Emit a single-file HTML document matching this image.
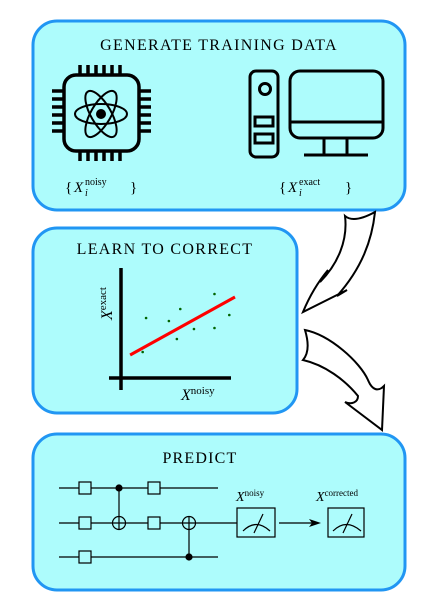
<!DOCTYPE html>
<html><head><meta charset="utf-8"><style>
html,body{margin:0;padding:0;background:#fff;}
svg{display:block;font-family:"Liberation Serif",serif;}
</style></head><body>
<svg id="fig" width="446" height="608" viewBox="0 0 446 608">
<!-- Box 1 -->
<g>
<rect x="33" y="21" width="372" height="189" rx="24" fill="#adfcfc" stroke="#2196f3" stroke-width="3"/>
<text x="219" y="50" text-anchor="middle" font-size="16" letter-spacing="1.3">GENERATE TRAINING DATA</text>
<g stroke="#000" fill="none" stroke-width="3.5">
<rect x="64" y="75" width="75" height="76" rx="12"/>
<g stroke-width="3.5">
<path d="M80 65V75M88 65V75M96 65V75M104 65V75M112 65V75M120 65V75"/>
<path d="M80 151V161M88 151V161M96 151V161M104 151V161M112 151V161M120 151V161"/>
<path d="M52 91H64M52 99H64M52 107H64M52 115H64M52 123H64M52 131H64"/>
<path d="M139 91H151M139 99H151M139 107H151M139 115H151M139 123H151M139 131H151"/>
</g>
<g stroke-width="2">
<ellipse cx="101" cy="114" rx="26" ry="10"/>
<ellipse cx="101" cy="114" rx="26" ry="10" transform="rotate(60 101 114)"/>
<ellipse cx="101" cy="114" rx="26" ry="10" transform="rotate(-60 101 114)"/>
</g>
<circle cx="101" cy="114" r="5" fill="#000" stroke="none"/>
</g>
<g stroke="#000" fill="none" stroke-width="3">
<rect x="250" y="71" width="28" height="86" rx="6"/>
<circle cx="265" cy="89" r="5.5"/>
<rect x="255" y="117" width="18" height="9"/>
<rect x="255" y="134" width="18" height="9"/>
<rect x="290" y="71" width="93" height="67" rx="10"/>
<path d="M290 122H383M324 138V154M347 138V154M304 155H368"/>
</g>
<g font-size="15">
<text x="65" y="192">{</text>
<text x="74" y="192" font-style="italic">X</text>
<text x="85" y="185" font-size="10">noisy</text>
<text x="85" y="196" font-size="10" font-style="italic">i</text>
<text x="130" y="192">}</text>
</g>
<g font-size="15">
<text x="279" y="192">{</text>
<text x="288" y="192" font-style="italic">X</text>
<text x="299" y="185" font-size="10">exact</text>
<text x="299" y="196" font-size="10" font-style="italic">i</text>
<text x="345" y="192">}</text>
</g>
</g>
<!-- Box 2 -->
<g>
<rect x="33" y="228" width="264" height="185" rx="24" fill="#adfcfc" stroke="#2196f3" stroke-width="3"/>
<text x="165" y="254" text-anchor="middle" font-size="16" letter-spacing="1.3">LEARN TO CORRECT</text>
<path d="M121 268V390M109 378H231" stroke="#000" stroke-width="3.5" fill="none"/>
<g id="dots"></g>
<line id="fitline" stroke="#f00" stroke-width="3"/>
<text x="112" y="320" font-size="14" transform="rotate(-90 112 320)"><tspan font-style="italic" font-size="16">X</tspan><tspan font-size="11" dy="-6">exact</tspan></text>
<text x="181" y="400" font-size="15"><tspan font-style="italic" font-size="16">X</tspan><tspan font-size="11" dy="-6">noisy</tspan></text>
</g>
<!-- Arrows -->
<path d="M345 216 C352 222 364 218 375 212 C372 240 362 268 337 296 L347 290 L303 312 C310 295 318 282 328 270 L320 282 C338 264 348 240 345 216 Z" fill="#fff" stroke="#000" stroke-width="2"/>
<path d="M305 330 C330 335 360 362 368 380 C372 390 378 392 384 386 L382 430 L345 402 C352 405 358 402 358 396 C345 380 325 365 303 360 C310 352 308 340 305 330 Z" fill="#fff" stroke="#000" stroke-width="2"/>
<!-- Box 3 -->
<g>
<rect x="33" y="434" width="372" height="156" rx="24" fill="#adfcfc" stroke="#2196f3" stroke-width="3"/>
<text x="200" y="463" text-anchor="middle" font-size="16" letter-spacing="1.2">PREDICT</text>
<g stroke="#000" stroke-width="1.2" fill="none">
<path d="M59 488H218M59 523H237M59 557H218"/>
<rect x="79" y="482" width="12" height="12" fill="#adfcfc"/>
<rect x="79" y="517" width="12" height="12" fill="#adfcfc"/>
<rect x="79" y="551" width="12" height="12" fill="#adfcfc"/>
<rect x="148" y="482" width="12" height="12" fill="#adfcfc"/>
<rect x="148" y="517" width="12" height="12" fill="#adfcfc"/>
<path d="M119 488V529"/>
<circle cx="119" cy="488" r="3" fill="#000"/>
<circle cx="119" cy="523" r="6.5"/>
<path d="M189 517V557"/>
<circle cx="189" cy="557" r="3" fill="#000"/>
<circle cx="189" cy="523" r="6.5"/>
<rect x="237" y="508" width="38" height="29" fill="#adfcfc"/>
<path d="M243 531 Q256 518 270 531M254 533L263 514"/>
<path d="M279 523H314"/>
<rect x="328" y="508" width="36" height="29" fill="#adfcfc"/>
<path d="M333 531 Q346 518 361 531M343 533L352 514"/>
</g>
<path d="M309 519L321 523L309 527L312 523Z" fill="#000"/>
<text x="236" y="501" font-size="14"><tspan font-style="italic">X</tspan><tspan font-size="9" dy="-5">noisy</tspan></text>
<text x="316" y="501" font-size="14"><tspan font-style="italic">X</tspan><tspan font-size="9" dy="-5">corrected</tspan></text>
</g>
</svg>
<script>
const xVals = [0.22, 0.42, 0.52, 0.82, 0.95, 0.64, 0.82, 0.49, 0.19];
const yVals = [0.60, 0.57, 0.69, 0.84, 0.63, 0.49, 0.50, 0.39, 0.26];
const fitX = [0.08, 1.0];
const fitY = [0.23, 0.81];
function sx(v){ return 121 + v*114; }
function sy(v){ return 378 - v*100; }
const g = document.getElementById('dots');
for (let i=0;i<xVals.length;i++){
  const c = document.createElementNS('http://www.w3.org/2000/svg','circle');
  c.setAttribute('cx', sx(xVals[i]));
  c.setAttribute('cy', sy(yVals[i]));
  c.setAttribute('r', 1.3);
  c.setAttribute('fill', '#006400');
  
  
  g.appendChild(c);
}
const l = document.getElementById('fitline');
l.setAttribute('x1', sx(fitX[0])); l.setAttribute('y1', sy(fitY[0]));
l.setAttribute('x2', sx(fitX[1])); l.setAttribute('y2', sy(fitY[1]));
</script>
</body></html>
